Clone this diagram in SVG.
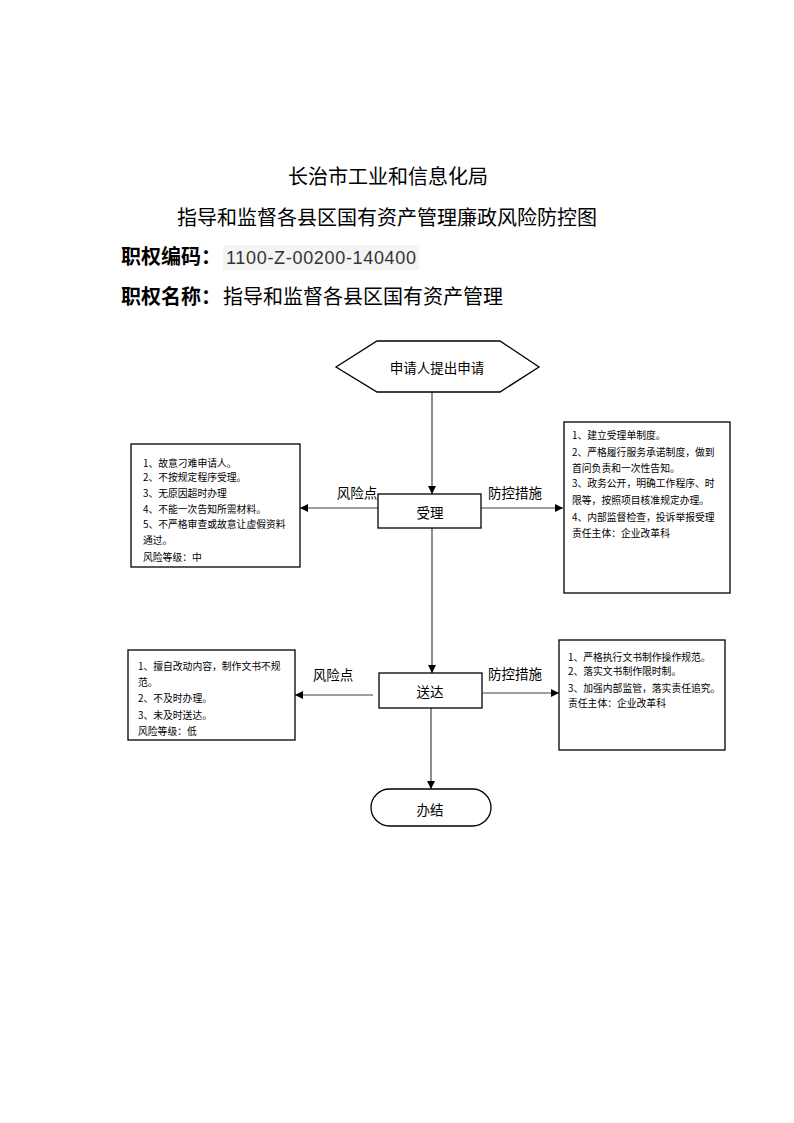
<svg xmlns="http://www.w3.org/2000/svg" width="794" height="1123" viewBox="0 0 794 1123">
<style>
.t{font-family:"Noto Sans CJK SC","Liberation Sans",sans-serif;fill:#000}
.h{font-size:20px}
.b{font-weight:bold}
.n{font-size:13.5px;text-anchor:middle;dominant-baseline:central}
.s{font-size:9.8px}
.box{fill:#fff;stroke:#000;stroke-width:1.3}
.ln{fill:none;stroke:#404040;stroke-width:1.2}
</style>
<defs>
<marker id="ah" viewBox="0 0 10 10" refX="10" refY="5" markerWidth="8" markerHeight="8" markerUnits="userSpaceOnUse" orient="auto">
<path d="M0,0 L10,5 L0,10 z" fill="#000"/>
</marker>
</defs>
<rect width="794" height="1123" fill="#fff"/>
<g id="header">
<text class="t h" x="388" y="184" text-anchor="middle">长治市工业和信息化局</text>
<text class="t h" x="387" y="225" text-anchor="middle">指导和监督各县区国有资产管理廉政风险防控图</text>
<text class="t h b" x="121" y="264">职权编码：</text>
<rect x="223" y="245" width="196" height="25" fill="#f4f4f4"/>
<text x="226" y="264" font-family="Liberation Sans,sans-serif" font-size="18" fill="#333" textLength="190">1100-Z-00200-140400</text>
<text class="t h b" x="121" y="304">职权名称：</text>
<text class="t h" x="223" y="304">指导和监督各县区国有资产管理</text>
</g>
<g id="connectors">
<line class="ln" x1="432" y1="392" x2="432" y2="494" marker-end="url(#ah)"/>
<line class="ln" x1="378" y1="508" x2="300" y2="508" marker-end="url(#ah)"/>
<line class="ln" x1="481" y1="508" x2="563" y2="508" marker-end="url(#ah)"/>
<line class="ln" x1="432" y1="528" x2="432" y2="673" marker-end="url(#ah)"/>
<line class="ln" x1="373" y1="695" x2="295" y2="695" marker-end="url(#ah)"/>
<line class="ln" x1="483" y1="693" x2="559" y2="693" marker-end="url(#ah)"/>
<line class="ln" x1="431" y1="708" x2="431" y2="789" marker-end="url(#ah)"/>
<text class="t n" x="357" y="492">风险点</text>
<text class="t n" x="515" y="492">防控措施</text>
<text class="t n" x="333" y="674">风险点</text>
<text class="t n" x="515" y="673">防控措施</text>
</g>
<g id="start">
<polygon class="box" points="336,367 377,341 500,341 539,367 500,392 377,392"/>
<text class="t n" x="437" y="367">申请人提出申请</text>
</g>
<g id="accept">
<rect class="box" x="378" y="494" width="103" height="34"/>
<text class="t n" x="430" y="512">受理</text>
</g>
<g id="risk1">
<rect class="box" x="131" y="444" width="169" height="123"/>
<text class="t s" x="143" y="467">1、故意刁难申请人。</text>
<text class="t s" x="143" y="481">2、不按规定程序受理。</text>
<text class="t s" x="143" y="497">3、无原因超时办理</text>
<text class="t s" x="143" y="513">4、不能一次告知所需材料。</text>
<text class="t s" x="143" y="528">5、不严格审查或故意让虚假资料</text>
<text class="t s" x="143" y="544">通过。</text>
<text class="t s" x="143" y="561">风险等级：中</text>
</g>
<g id="control1">
<rect class="box" x="564" y="422" width="166" height="171"/>
<text class="t s" x="572" y="439">1、建立受理单制度。</text>
<text class="t s" x="572" y="456">2、严格履行服务承诺制度，做到</text>
<text class="t s" x="572" y="472">首问负责和一次性告知。</text>
<text class="t s" x="572" y="487">3、政务公开，明确工作程序、时</text>
<text class="t s" x="572" y="504">限等，按照项目核准规定办理。</text>
<text class="t s" x="572" y="521">4、内部监督检查，投诉举报受理</text>
<text class="t s" x="572" y="537">责任主体：企业改革科</text>
</g>
<g id="deliver">
<rect class="box" x="379" y="673" width="103" height="35"/>
<text class="t n" x="430" y="691">送达</text>
</g>
<g id="risk2">
<rect class="box" x="128" y="650" width="167" height="90"/>
<text class="t s" x="138" y="670">1、擅自改动内容，制作文书不规</text>
<text class="t s" x="138" y="686">范。</text>
<text class="t s" x="138" y="702">2、不及时办理。</text>
<text class="t s" x="138" y="719">3、未及时送达。</text>
<text class="t s" x="138" y="735">风险等级：低</text>
</g>
<g id="control2">
<rect class="box" x="559" y="640" width="166" height="110"/>
<text class="t s" x="568" y="661">1、严格执行文书制作操作规范。</text>
<text class="t s" x="568" y="675">2、落实文书制作限时制。</text>
<text class="t s" x="568" y="692">3、加强内部监管，落实责任追究。</text>
<text class="t s" x="568" y="707">责任主体：企业改革科</text>
</g>
<g id="end">
<rect class="box" x="371" y="789" width="120" height="37" rx="18.5" ry="18.5"/>
<text class="t n" x="430" y="809">办结</text>
</g>
</svg>
